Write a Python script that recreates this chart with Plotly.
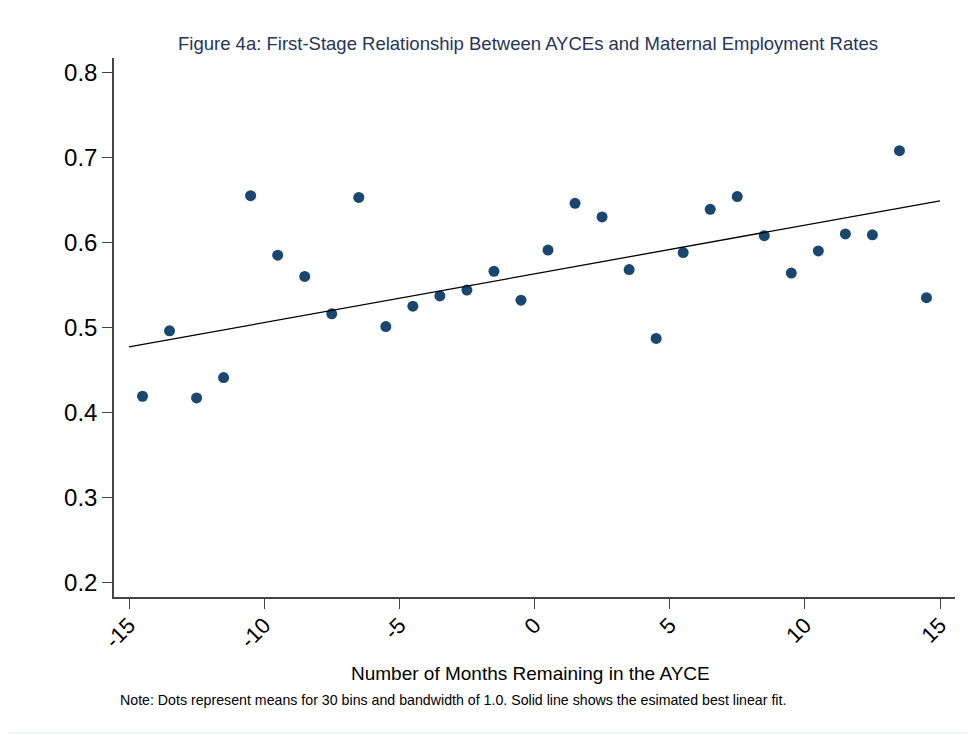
import plotly.graph_objects as go

# Data
bin_x = [-14.5, -13.5, -12.5, -11.5, -10.5, -9.5, -8.5, -7.5, -6.5, -5.5,
         -4.5, -3.5, -2.5, -1.5, -0.5, 0.5, 1.5, 2.5, 3.5, 4.5,
         5.5, 6.5, 7.5, 8.5, 9.5, 10.5, 11.5, 12.5, 13.5, 14.5]
bin_means = [0.419, 0.496, 0.417, 0.441, 0.655, 0.585, 0.560, 0.516, 0.653, 0.501,
             0.525, 0.537, 0.544, 0.566, 0.532, 0.591, 0.646, 0.630, 0.568, 0.487,
             0.588, 0.639, 0.654, 0.608, 0.564, 0.590, 0.610, 0.609, 0.708, 0.535]
fit_x = [-15, 15]
fit_y = [0.477, 0.649]

x_tick_vals = [-15, -10, -5, 0, 5, 10, 15]
x_tick_text = ["-15", "-10", "-5", "0", "5", "10", "15"]
y_tick_vals = [0.2, 0.3, 0.4, 0.5, 0.6, 0.7, 0.8]
y_tick_text = ["0.2", "0.3", "0.4", "0.5", "0.6", "0.7", "0.8"]

title_text = "Figure 4a: First-Stage Relationship Between AYCEs and Maternal Employment Rates"
x_title = "Number of Months Remaining in the AYCE"
note_text = ("Note: Dots represent means for 30 bins and bandwidth of 1.0. "
             "Solid line shows the esimated best linear fit.")

FONT = "Liberation Sans, Arial, sans-serif"
W, H = 968, 727  # page body has an 8px margin

fig = go.Figure()
fig.add_trace(go.Scatter(
    x=bin_x, y=bin_means, mode="markers",
    marker=dict(size=11, color="#1a476f", line=dict(width=0)),
    showlegend=False, hoverinfo="x+y"))
fig.add_trace(go.Scatter(
    x=fit_x, y=fit_y, mode="lines",
    line=dict(color="#000000", width=1.3),
    showlegend=False))

fig.update_layout(
    width=W, height=H,
    paper_bgcolor="white", plot_bgcolor="white",
    margin=dict(l=106, r=21, t=50, b=138, autoexpand=False),
    font=dict(family=FONT, color="#000000"),
    title=dict(text=title_text, xref="container", yref="container",
               x=520 / W, y=1 - 36 / H, xanchor="center", yanchor="middle",
               font=dict(family=FONT, size=18.5, color="#26355a")),
    xaxis=dict(range=[-15.555, 15.555], tickmode="array",
               tickvals=x_tick_vals, ticktext=x_tick_text,
               tickangle=-45, ticks="outside", ticklen=10, tickwidth=1.3,
               tickcolor="#444444", showline=True, linecolor="#444444",
               linewidth=1.5, showgrid=False, zeroline=False,
               ticklabelstandoff=-5,
               tickfont=dict(size=22, color="#000000")),
    yaxis=dict(range=[0.1828, 0.817], tickmode="array",
               tickvals=y_tick_vals, ticktext=y_tick_text,
               ticks="outside", ticklen=10, tickwidth=1.3,
               tickcolor="#444444", showline=True, linecolor="#444444",
               linewidth=1.5, showgrid=False, zeroline=False,
               tickfont=dict(size=24, color="#000000")),
    annotations=[
        dict(text=x_title, xref="paper", yref="paper",
             x=(530.5 - 114) / 841, y=(597 - 673) / 539,
             xanchor="center", yanchor="middle", showarrow=False,
             font=dict(family=FONT, size=19, color="#000000")),
        dict(text=note_text, xref="paper", yref="paper",
             x=(118 - 114) / 841, y=(597 - 700) / 539,
             xanchor="left", yanchor="middle", showarrow=False,
             font=dict(family=FONT, size=14.2, color="#000000")),
    ],
    shapes=[
        dict(type="rect", xref="paper", yref="paper",
             x0=(4 - 114) / 841, x1=(975 - 114) / 841,
             y0=(597 - 733) / 539, y1=(597 - 2) / 539,
             line=dict(color="#e4eeee", width=1), fillcolor="rgba(0,0,0,0)",
             layer="below"),
    ],
)

fig.write_html("out.html")
